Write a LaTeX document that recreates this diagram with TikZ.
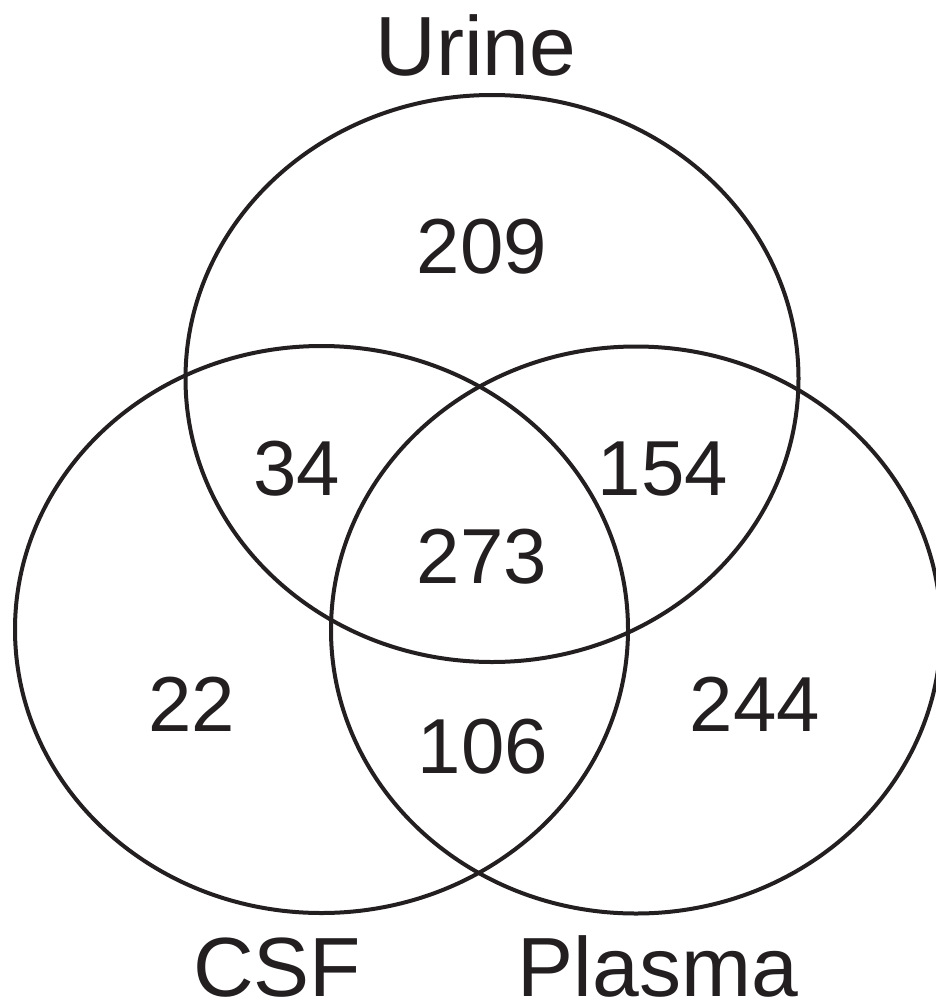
\documentclass[tikz,border=0pt]{standalone}
\usepackage{fontspec}
\setmainfont{Liberation Sans}
\definecolor{ink}{RGB}{35,31,32}
\begin{document}
\begin{tikzpicture}[x=1pt,y=-1pt,
  ring/.style={draw=ink,line width=4pt},
  setlabel/.style={anchor=base,inner sep=0pt,text=ink,font=\fontsize{84}{96}\selectfont},
  count/.style={anchor=base,inner sep=0pt,text=ink,font=\fontsize{78}{90}\selectfont}]
\useasboundingbox (0,0) rectangle (936,1004);
\clip (0,0) rectangle (936,1004);
\draw[ring] (492,378.5) ellipse [x radius=306.5, y radius=283.5];
\draw[ring] (321.5,629.5) ellipse [x radius=306.5, y radius=283.5];
\draw[ring] (636,630) ellipse [x radius=305, y radius=283.5];
\node[setlabel] (urine) at (476,75) {Urine};
\node[setlabel] (csf) at (277,996) {CSF};
\node[setlabel] (plasma) at (658,996) {Plasma};
\node[count] (n209) at (482,273) {209};
\node[count] (n34) at (297,495) {34};
\node[count] (n154) at (663,495) {154};
\node[count] (n273) at (482,583) {273};
\node[count] (n22) at (192,731) {22};
\node[count] (n244) at (755,731) {244};
\node[count] (n106) at (483,773) {106};
\end{tikzpicture}
\end{document}
